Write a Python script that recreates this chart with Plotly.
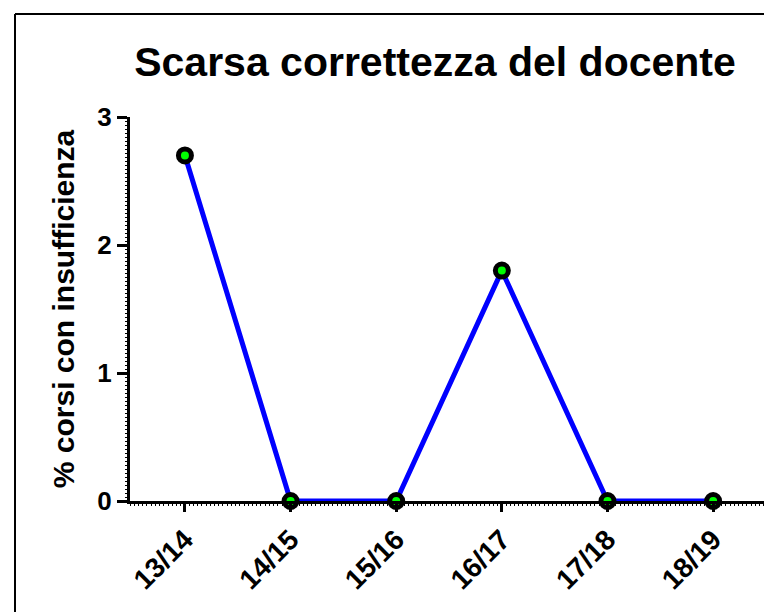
import plotly.graph_objects as go

# Dati
anni = ["13/14", "14/15", "15/16", "16/17", "17/18", "18/19"]
percentuali = [2.7, 0, 0, 1.8, 0, 0]
y_ticks = [0, 1, 2, 3]

W, H = 772, 612
L, R, T, B = 122, 13, 109, 119
pw, ph = W - L - R, H - T - B

posizioni = list(range(len(anni)))


def px_x(v):
    return (v - L) / pw


def px_y(v):
    return (H - B - v) / ph


fig = go.Figure()
fig.add_trace(go.Scatter(
    x=posizioni,
    y=percentuali,
    mode="lines+markers",
    line=dict(color="#0000ff", width=5),
    marker=dict(color="#00ff00", size=13, line=dict(color="black", width=5)),
    cliponaxis=False,
))

font = "Liberation Sans, Arial, sans-serif"

fig.update_layout(
    width=W,
    height=H,
    margin=dict(l=L, r=R, t=T, b=B),
    plot_bgcolor="white",
    paper_bgcolor="white",
    showlegend=False,
    font=dict(family=font, color="black"),
    title=dict(
        text="<b>Scarsa correttezza del docente</b>",
        font=dict(size=41, family=font, color="black"),
        x=427 / W,
        xanchor="center",
        y=1 - 54 / H,
        yanchor="middle",
    ),
    shapes=[
        dict(type="line", xref="paper", yref="paper",
             x0=px_x(7), x1=px_x(7), y0=px_y(6), y1=px_y(612),
             line=dict(color="black", width=2)),
        dict(type="line", xref="paper", yref="paper",
             x0=px_x(7), x1=px_x(772), y0=px_y(6), y1=px_y(6),
             line=dict(color="black", width=2)),
    ],
)

fig.update_xaxes(
    range=[-0.52, 5.51],
    tickvals=posizioni,
    ticktext=[f"<b>{a}</b>" for a in anni],
    showline=True, linecolor="black", linewidth=3,
    showgrid=False, zeroline=False,
    ticks="outside", ticklen=8, tickwidth=3, tickcolor="black",
    tickangle=-45,
    tickfont=dict(size=28, family=font, color="black"),
    minor=dict(ticks="outside", dtick=0.04, ticklen=2, tickwidth=1, tickcolor="black"),
)

fig.update_yaxes(
    range=[0, 3],
    tickvals=y_ticks,
    ticktext=[f"<b>{v}</b>" for v in y_ticks],
    showline=True, linecolor="black", linewidth=3,
    showgrid=False, zeroline=False,
    ticks="outside", ticklen=10, tickwidth=3, tickcolor="black",
    tickfont=dict(size=26, family=font, color="black"),
    minor=dict(ticks="outside", dtick=0.03125, ticklen=2, tickwidth=1, tickcolor="black"),
    title=dict(text="<b>% corsi con insufficienza</b>",
               font=dict(size=30, family=font, color="black"), standoff=14),
)

fig.write_html("out.html")
